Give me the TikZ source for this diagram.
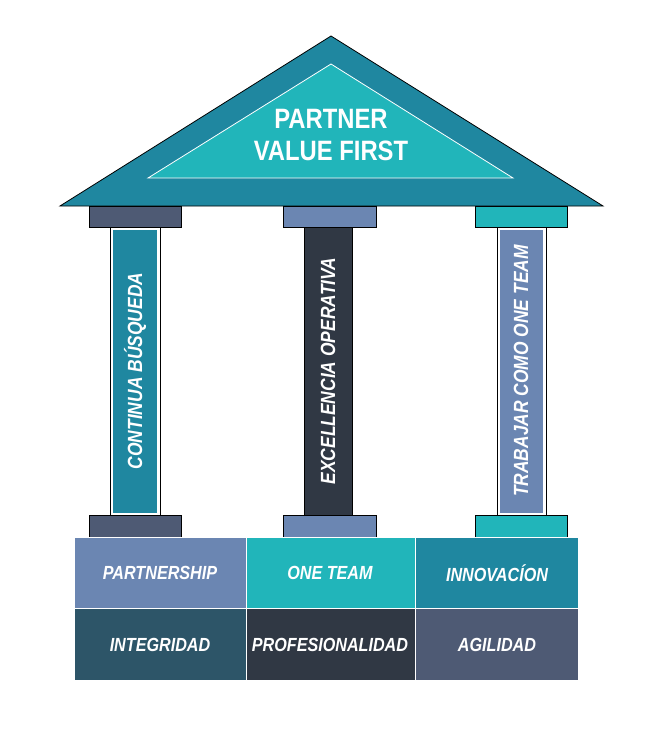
\documentclass[tikz,border=0pt]{standalone}
\usepackage{fontspec}
\setmainfont{Liberation Sans}[FakeStretch=0.85]
\begin{document}
\begin{tikzpicture}[x=1pt,y=-1pt,
  txt/.style={text=white,font=\bfseries\itshape\fontsize{19}{21}\selectfont},
  ptxt/.style={txt,rotate=90,font=\bfseries\itshape\fontsize{20.5}{22}\selectfont},
  blk/.style={draw=black,line width=0.8pt},
  cell/.style={draw=white,line width=1pt}]
\definecolor{teal}{HTML}{1F87A0}
\definecolor{aqua}{HTML}{21B5BA}
\definecolor{slate}{HTML}{4E5A74}
\definecolor{blue}{HTML}{6B86B2}
\definecolor{dark}{HTML}{303844}
\definecolor{deep}{HTML}{2D5568}
\useasboundingbox (0,0) rectangle (662,730);
% roof
\draw[fill=teal,draw=black,line width=0.8pt] (60,206) -- (331,36) -- (603,206) -- cycle;
\draw[fill=aqua,draw=white,line width=0.8pt] (148,178) -- (331,64) -- (513,178) -- cycle;
\node[text=white,font=\bfseries\fontsize{28}{32}\selectfont,align=center] (roof) at (331,135) {PARTNER\\VALUE FIRST};
% capitals
\draw[blk,fill=slate] (89,206) rectangle (181,227);
\draw[blk,fill=blue] (283,206) rectangle (376,227);
\draw[blk,fill=aqua] (475,206) rectangle (567,227);
% shafts
\draw[blk,fill=white] (110,227) rectangle (160,515);
\fill[teal] (113,230) rectangle (157,513);
\draw[blk,fill=dark] (304,227) rectangle (352,515);
\draw[blk,fill=white] (497,227) rectangle (546,515);
\fill[blue] (500,230) rectangle (543,513);
\node[ptxt] (p1) at (135,371) {CONTINUA BÚSQUEDA};
\node[ptxt] (p2) at (328,371) {EXCELLENCIA OPERATIVA};
\node[ptxt] (p3) at (521,371) {TRABAJAR COMO ONE TEAM};
% bases
\draw[blk,fill=slate] (89,515) rectangle (181,537);
\draw[blk,fill=blue] (283,515) rectangle (376,537);
\draw[blk,fill=aqua] (475,515) rectangle (567,537);
% grid
\draw[cell,fill=blue] (74,537) rectangle (246,608);
\draw[cell,fill=aqua] (246,537) rectangle (415,608);
\draw[cell,fill=teal] (415,537) rectangle (578,608);
\draw[cell,fill=deep] (74,608) rectangle (246,680);
\draw[cell,fill=dark] (246,608) rectangle (415,680);
\draw[cell,fill=slate] (415,608) rectangle (578,680);
\node[txt] (c1) at (160,573) {PARTNERSHIP};
\node[txt] (c2) at (330,573) {ONE TEAM};
\node[txt] (c3) at (497,573) {INNOVACÍON};
\node[txt] (c4) at (160,645) {INTEGRIDAD};
\node[txt] (c5) at (330,645) {PROFESIONALIDAD};
\node[txt] (c6) at (497,645) {AGILIDAD};
\end{tikzpicture}
\end{document}
